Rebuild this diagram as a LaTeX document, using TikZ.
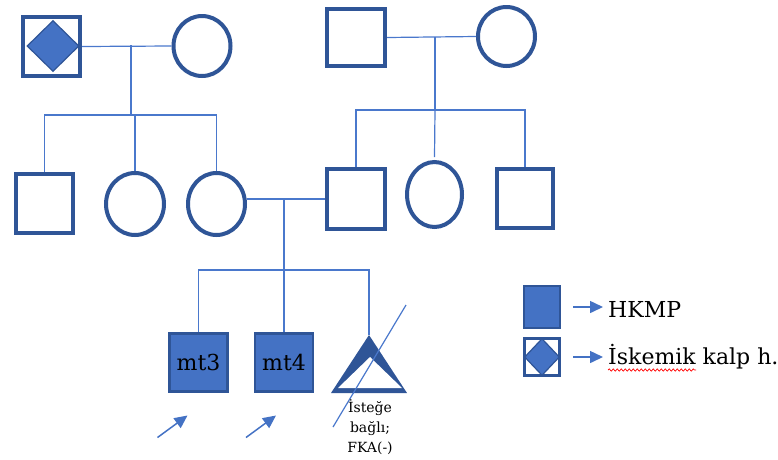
\documentclass[tikz,border=0pt]{standalone}
\usepackage{fontspec}
\setmainfont{DejaVu Serif}
\usepackage{tikz}
\usetikzlibrary{arrows.meta,shapes.geometric,decorations.pathmorphing}
\definecolor{pdark}{HTML}{2F5597}
\definecolor{pfill}{HTML}{4472C4}
\definecolor{pline}{HTML}{4A78CC}

\begin{document}
\begin{tikzpicture}[x=1pt,y=-1pt,>={Triangle[length=13pt,width=12pt]},line join=miter]
        \tikzstyle{every node}=[inner sep=0pt]
        \tikzstyle{male}=[rectangle,draw=pdark,line width=4pt,fill=white]
        \tikzstyle{female}=[ellipse,draw=pdark,line width=4pt,fill=white]
        \tikzstyle{affected}=[rectangle,draw=pdark,line width=2.5pt,fill=pfill,minimum width=58pt,minimum height=58pt,font=\fontsize{22}{26}\selectfont]
        \tikzstyle{ischemic}=[diamond,draw=pdark,line width=1.2pt,fill=pfill]
        \tikzstyle{link}=[draw=pline,line width=1.2pt]
        \tikzstyle{pointer}=[->,draw=pfill,line width=1.5pt]
        \tikzstyle{legendtext}=[anchor=base west,font=\fontsize{22}{26}\selectfont]
        \useasboundingbox (0,0) rectangle (778,459);
        \node[male,minimum width=57pt,minimum height=59pt] (p1) at (51.5,46.5) {};
        \node[ischemic,minimum width=52pt,minimum height=51pt] (p1d) at (53,46) {};
        \node[female,minimum width=57pt,minimum height=60pt] (p2) at (202,46) {};
        \node[male,minimum width=58pt,minimum height=57pt] (p3) at (356,37.5) {};
        \node[female,minimum width=57pt,minimum height=59pt] (p4) at (506.5,36.5) {};
        \node[male,minimum width=57pt,minimum height=59pt] (c1) at (44.5,203.5) {};
        \node[female,minimum width=58pt,minimum height=62pt] (c2) at (135,204) {};
        \node[female,minimum width=57pt,minimum height=62pt] (c3) at (216.5,204) {};
        \node[male,minimum width=58pt,minimum height=60pt] (c4) at (356,199) {};
        \node[female,minimum width=55pt,minimum height=65pt] (c5) at (434.5,194.5) {};
        \node[male,minimum width=56pt,minimum height=59pt] (c6) at (525,198.5) {};
        \node[affected] (mt3) at (198.5,362.5) {mt3};
        \node[affected] (mt4) at (284,362.5) {mt4};
        \coordinate (mt5) at (369,335);
        \coordinate (m1) at (131,45);
        \coordinate (s1) at (131,115);
        \coordinate (m2) at (435,37);
        \coordinate (s2) at (435,110);
        \coordinate (m3) at (284,199);
        \coordinate (s3) at (284,270);
    \path[link]
        (p1.east) edge (p2.west)
        (p3.east) edge (p4.west)
        (c3.east |- c4.west) edge (c4.west)
        (m1) edge (s1)
        (m2) edge (s2)
        (m3) edge (s3);
    \draw[link] (c1.north) |- (s1) -| (c3.north);
    \draw[link] (s1 -| c2.north) -- (c2.north);
    \draw[link] (c4.north) |- (s2) -| (c6.north);
    \draw[link] (s2) -- ([yshift=3pt]c5.north);
    \draw[link] (mt3.north) |- (s3) -| (mt5);
    \draw[link] (s3) -- (mt4.north);
        \fill[pdark] (mt5) -- ++(-38,58) -- ++(76,0) -- cycle;
        \fill[white] ([shift={(1,22)}]mt5) -- ++(-32,31) -- ++(64,0) -- cycle;
        \draw[link] (333,427) -- (406,305);
        \node[anchor=north,align=center,font=\fontsize{14}{20}\selectfont] (mt5l) at (370,399) {İsteğe\\bağlı;\\FKA(-)};
        \draw[pointer] ([shift={(-41,75)}]mt3.center) -- ++(30,-22);
        \draw[pointer] ([shift={(-38,75)}]mt4.center) -- ++(30,-22);
        \node[rectangle,draw=pdark,line width=2pt,fill=pfill,minimum width=36pt,minimum height=42pt] (lg1) at (542,307) {};
        \node[male,line width=3pt,minimum width=35pt,minimum height=37pt] (lg2) at (542,357) {};
        \node[ischemic,minimum width=35pt,minimum height=37pt] (lg2d) at (lg2.center) {};
        \node[legendtext] (hk) at (608,317) {HKMP};
        \node[legendtext] (ik) at (608,364) {İskemik kalp h.};
        \draw[pointer] ([xshift=12pt]lg1.east) -- ([xshift=-5pt]hk.west |- lg1.east);
        \draw[pointer] ([xshift=12pt]lg2.east) -- ([xshift=-5pt]ik.west |- lg2.east);
        \draw[red,line width=0.7pt,decorate,decoration={snake,amplitude=1.1pt,segment length=4pt}] ([yshift=-6pt]ik.base west) -- ++(88,0);
    \end{tikzpicture}
\end{document}
